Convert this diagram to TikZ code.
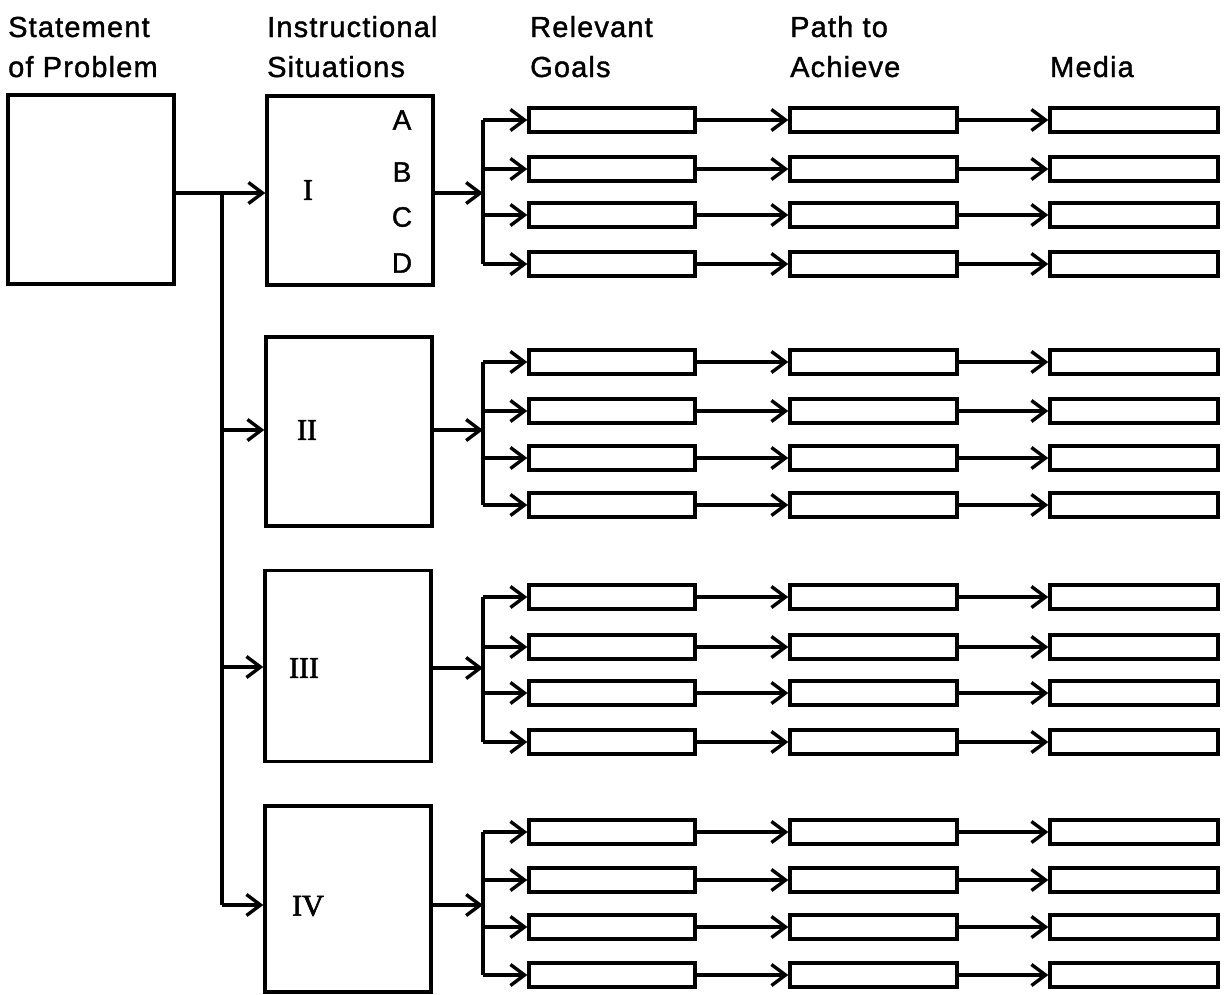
\documentclass[tikz,border=0pt]{standalone}
\usepackage{fontspec}
\setmainfont{Liberation Sans}[LetterSpace=4, FakeBold=1.3]
\newfontfamily\romfont{Liberation Serif}[FakeBold=2]
\usetikzlibrary{arrows.meta}
\begin{document}
\begin{tikzpicture}[x=1pt,y=-1pt,
  bigbox/.style={draw, line width=3.4pt, inner sep=0pt, minimum width=166pt},
  smallbox/.style={draw, line width=3.4pt, inner sep=0pt, minimum height=24pt},
  goalbox/.style={smallbox, minimum width=166pt},
  pathbox/.style={smallbox, minimum width=167pt},
  mediabox/.style={smallbox, minimum width=168pt},
  conn/.style={line width=3.2pt, -{Straight Barb[length=14pt,width=21pt,line width=3.4pt]}},
  plain/.style={line width=3.2pt},
  head/.style={anchor=base west, inner sep=0pt, font=\fontsize{29}{34}\selectfont},
  letter/.style={inner sep=0pt, font=\fontsize{28}{34}\selectfont},
  roman/.style={inner sep=0pt, font=\romfont\fontsize{30}{34}\selectfont}]
\useasboundingbox (0,0) rectangle (1225,994);

% headers
\node[head] (h1a) at (8,37) {Statement};
\node[head] (h1b) at (8,77) {of Problem};
\node[head] (h2a) at (267,37) {Instructional};
\node[head] (h2b) at (267,77) {Situations};
\node[head] (h3a) at (530,37) {Relevant};
\node[head] (h3b) at (530,77) {Goals};
\node[head] (h4a) at (790,37) {Path to};
\node[head] (h4b) at (790,77) {Achieve};
\node[head] (h5b) at (1050,77) {Media};

% main boxes
\node[bigbox, minimum height=189pt] (S) at (91,189.5) {};
\node[bigbox, minimum height=189pt] (sit1) at (350,190.5) {};
\node[bigbox, minimum height=189pt] (sit2) at (349,431.5) {};
\node[bigbox, minimum height=191pt] (sit3) at (348,666) {};
\node[bigbox, minimum height=186pt] (sit4) at (348,899) {};

% labels
\node[roman] (lI) at (308,190) {I};
\node[roman] (lII) at (307,430) {II};
\node[roman] (lIII) at (304,668) {III};
\node[roman] (lIV) at (308,906) {IV};
\node[letter] (lA) at (402,120) {A};
\node[letter] (lB) at (402,172) {B};
\node[letter] (lC) at (402,217) {C};
\node[letter] (lD) at (402,263) {D};

% trunk from statement
\coordinate (tr0) at (222,193);
\coordinate (tr2) at (222,430);
\coordinate (tr3) at (222,667);
\coordinate (tr4) at (222,905);
\draw[conn] (S.east |- tr0) -- (sit1.west |- tr0);
\draw[plain] (tr0) -- (tr4);
\draw[conn] (tr2) -- (sit2.west |- tr2);
\draw[conn] (tr3) -- (sit3.west |- tr3);
\draw[conn] (tr4) -- (sit4.west |- tr4);

% branches
\foreach \g/\ya/\yb/\yc/\yd/\ym in {1/120/169/215/264/193, 2/362/411/458/505/430, 3/597/647/693/742/668, 4/832/880/927/975/905} {
  \coordinate (fan\g) at (483,\ym);
  \draw[conn] (sit\g.east |- fan\g) -- (fan\g);
  \foreach \r/\y in {a/\ya, b/\yb, c/\yc, d/\yd} {
    \node[goalbox] (goal\g\r) at (612,\y) {};
    \node[pathbox] (path\g\r) at (873.5,\y) {};
    \node[mediabox] (media\g\r) at (1134,\y) {};
    \draw[conn] (fan\g |- goal\g\r) -- (goal\g\r.west);
    \draw[conn] (goal\g\r.east) -- (path\g\r.west);
    \draw[conn] (path\g\r.east) -- (media\g\r.west);
  }
  \draw[plain] (fan\g |- goal\g a) -- (fan\g |- goal\g d);
}
\end{tikzpicture}
\end{document}
